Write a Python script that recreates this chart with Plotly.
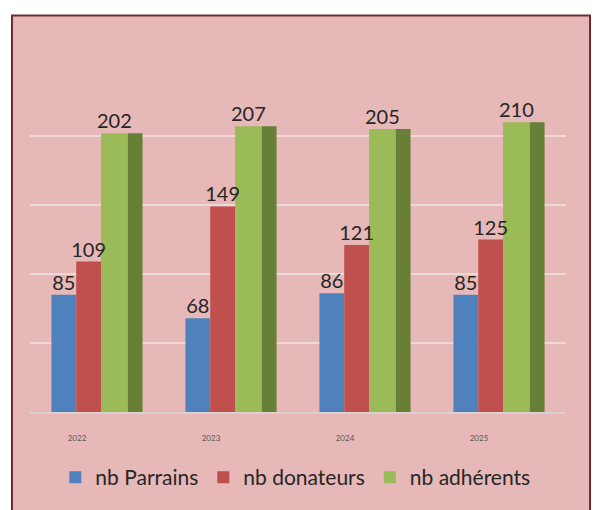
import plotly.graph_objects as go

years = ["2022", "2023", "2024", "2025"]
parrains = [85, 68, 86, 85]
donateurs = [109, 149, 121, 125]
adherents = [202, 207, 205, 210]
series_names = ["nb Parrains", "nb donateurs", "nb adhérents"]

FONT = "Lato"
TXT = "#262626"
xi = list(range(len(years)))

fig = go.Figure()
specs = [
    (parrains, series_names[0], "#4f81bd", -0.34, 0.185),
    (donateurs, series_names[1], "#c0504d", -0.155, 0.185),
    (adherents, series_names[2], "#9bbb59", 0.03, 0.2),
]
for vals, name, col, off, w in specs:
    fig.add_trace(go.Bar(
        x=xi, y=vals, name=name, marker=dict(color=col, line=dict(width=0)),
        offset=off, width=w,
    ))
# side face of the 3D green columns
fig.add_trace(go.Bar(
    x=xi, y=adherents, name="side", showlegend=False,
    marker=dict(color="#677f37", line=dict(width=0)),
    offset=0.23, width=0.11, hoverinfo="skip",
))
# value labels, drawn on top of all bars
for vals, name, col, off, w in specs:
    fig.add_trace(go.Scatter(
        x=[i + off + w / 2 for i in xi], y=vals, mode="text",
        text=[str(v) for v in vals], textposition="top center",
        textfont=dict(size=20, color=TXT, family=FONT),
        showlegend=False, hoverinfo="skip", cliponaxis=False,
    ))

fig.update_layout(
    width=596, height=510,
    margin=dict(l=30, r=30, t=67, b=88),
    paper_bgcolor="white", plot_bgcolor="rgba(0,0,0,0)",
    barmode="overlay",
    font=dict(family=FONT, color=TXT),
    showlegend=True,
    legend=dict(orientation="h", x=0.495, xanchor="center", y=-0.19, yanchor="middle",
                font=dict(size=21, color=TXT, family=FONT), bgcolor="rgba(0,0,0,0)",
                traceorder="normal", itemwidth=30),
    xaxis=dict(tickmode="array", tickvals=xi, ticktext=years, showgrid=False,
               showline=True, linecolor="#dccfcf", linewidth=1.5, ticks="",
               tickfont=dict(size=8, color="#595959", family=FONT),
               ticklabelshift=-20, ticklabelstandoff=18, range=[-0.5, 3.5],
               zeroline=False),
    yaxis=dict(range=[0, 250], dtick=50, showgrid=True, gridcolor="rgba(236,222,222,0.85)",
               gridwidth=1.5, showticklabels=False, zeroline=False, ticks=""),
    shapes=[dict(type="rect", xref="paper", yref="paper", x0=-0.0336, x1=1.0448,
                 y0=-0.3, y1=1.149, fillcolor="#e6b8b7",
                 line=dict(color="#6b2e2e", width=2), layer="below")],
)

fig.write_html(
    "out.html",
    config={"displayModeBar": False},
    post_script="document.body.style.margin='0';document.body.style.overflow='hidden';",
)
